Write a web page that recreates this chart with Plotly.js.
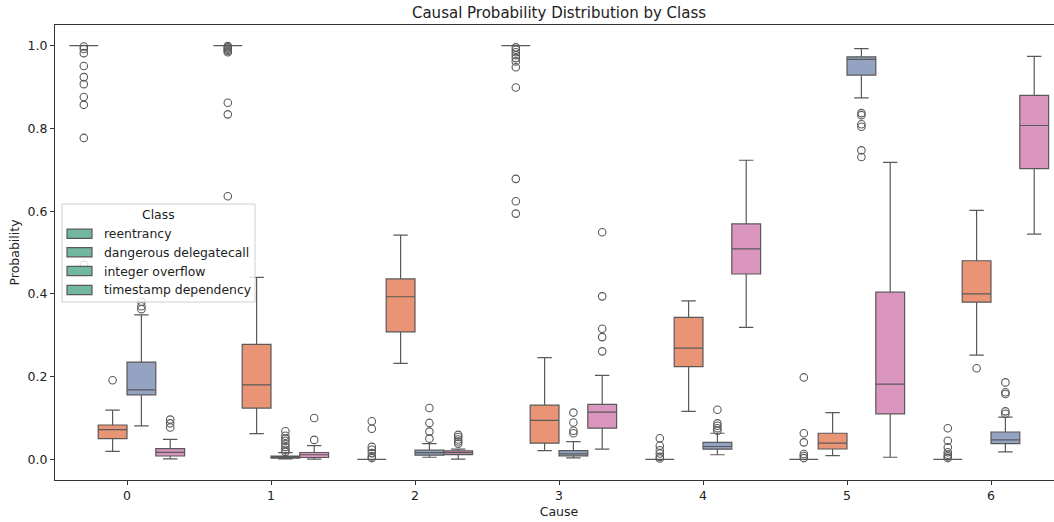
<!DOCTYPE html>
<html><head><meta charset="utf-8">
<script src="https://cdn.plot.ly/plotly-3.0.1.min.js"></script>
<style>html,body{margin:0;padding:0;overflow:hidden;background:#fff}#chart{width:1075px;height:522px}</style>
</head><body><div id="chart"></div>
<script>
// ---- data ----
const causes = [0, 1, 2, 3, 4, 5, 6];
const classes = ['reentrancy', 'dangerous delegatecall', 'integer overflow', 'timestamp dependency'];

const reentrancyQ1  = [1.0, 1.0, 0.0, 1.0, 0.0, 0.0, 0.0];
const reentrancyMed = [1.0, 1.0, 0.0, 1.0, 0.0, 0.0, 0.0];
const reentrancyQ3  = [1.0, 1.0, 0.0, 1.0, 0.0, 0.0, 0.0];
const reentrancyLo  = [1.0, 1.0, 0.0, 1.0, 0.0, 0.0, 0.0];
const reentrancyHi  = [1.0, 1.0, 0.0, 1.0, 0.0, 0.0, 0.0];
const reentrancyOut = [
  [0.998, 0.992, 0.982, 0.951, 0.924, 0.907, 0.876, 0.857, 0.777, 0.47],
  [0.999, 0.996, 0.993, 0.99, 0.987, 0.984, 0.862, 0.834, 0.636],
  [0.092, 0.074, 0.030, 0.023, 0.015, 0.007, 0.003],
  [0.996, 0.99, 0.984, 0.977, 0.97, 0.962, 0.948, 0.899, 0.678, 0.624, 0.594],
  [0.051, 0.033, 0.022, 0.014, 0.006, 0.002],
  [0.198, 0.063, 0.041, 0.013, 0.008, 0.003],
  [0.075, 0.045, 0.029, 0.017, 0.011, 0.007, 0.003]
];

const delegateQ1  = [0.050, 0.124, 0.308, 0.039, 0.224, 0.025, 0.380];
const delegateMed = [0.072, 0.180, 0.393, 0.094, 0.269, 0.039, 0.400];
const delegateQ3  = [0.083, 0.278, 0.436, 0.131, 0.343, 0.063, 0.480];
const delegateLo  = [0.019, 0.062, 0.232, 0.021, 0.116, 0.009, 0.252];
const delegateHi  = [0.119, 0.440, 0.542, 0.246, 0.383, 0.113, 0.602];
const delegateOut = [[0.191], [], [], [], [], [], [0.220]];

const overflowQ1  = [0.156, 0.003, 0.010, 0.0085, 0.0246, 0.929, 0.038];
const overflowMed = [0.168, 0.005, 0.016, 0.013, 0.031, 0.967, 0.047];
const overflowQ3  = [0.235, 0.008, 0.022, 0.021, 0.041, 0.973, 0.066];
const overflowLo  = [0.081, 0.001, 0.005, 0.0036, 0.011, 0.874, 0.018];
const overflowHi  = [0.349, 0.016, 0.038, 0.043, 0.063, 0.993, 0.102];
const overflowOut = [
  [0.381, 0.370, 0.363],
  [0.068, 0.057, 0.050, 0.045, 0.037, 0.030, 0.023, 0.018],
  [0.124, 0.088, 0.067, 0.050],
  [0.113, 0.089, 0.069, 0.063],
  [0.120, 0.087, 0.081, 0.075, 0.069],
  [0.837, 0.832, 0.810, 0.804, 0.747, 0.731],
  [0.186, 0.162, 0.158, 0.116, 0.110]
];

const timestampQ1  = [0.008, 0.0044, 0.0115, 0.0753, 0.448, 0.110, 0.703];
const timestampMed = [0.017, 0.011, 0.016, 0.114, 0.509, 0.182, 0.807];
const timestampQ3  = [0.026, 0.0165, 0.0206, 0.133, 0.569, 0.404, 0.880];
const timestampLo  = [0.001, 0.0004, 0.0005, 0.0246, 0.319, 0.005, 0.5445];
const timestampHi  = [0.048, 0.033, 0.0246, 0.203, 0.723, 0.718, 0.974];
const timestampOut = [
  [0.096, 0.087, 0.077],
  [0.100, 0.047],
  [0.059, 0.054, 0.048, 0.043, 0.038],
  [0.549, 0.394, 0.3155, 0.2955, 0.261],
  [], [], []
];

const yTicks = [0.0, 0.2, 0.4, 0.6, 0.8, 1.0];

// ---- styling ----
const fills = ['#72b7a1', '#e99575', '#95a3c3', '#db96c0'];
const edge = '#595959';
const font = 'DejaVu Sans, Verdana, sans-serif';

const stats = [
  [reentrancyQ1, reentrancyMed, reentrancyQ3, reentrancyLo, reentrancyHi, reentrancyOut],
  [delegateQ1, delegateMed, delegateQ3, delegateLo, delegateHi, delegateOut],
  [overflowQ1, overflowMed, overflowQ3, overflowLo, overflowHi, overflowOut],
  [timestampQ1, timestampMed, timestampQ3, timestampLo, timestampHi, timestampOut]
];

const groupWidth = 0.8;
const boxW = groupWidth / classes.length;
const traces = [];
stats.forEach((s, i) => {
  const off = (i - (classes.length - 1) / 2) * boxW;
  const pos = causes.map(c => c + off);
  traces.push({
    type: 'box', name: classes[i], x: pos,
    q1: s[0], median: s[1], q3: s[2], lowerfence: s[3], upperfence: s[4],
    width: boxW, whiskerwidth: 0.5, boxpoints: false,
    fillcolor: fills[i], line: {color: edge, width: 1.2},
    showlegend: false, hoverinfo: 'skip'
  });
});
stats.forEach((s, i) => {
  const off = (i - (classes.length - 1) / 2) * boxW;
  const xs = [], ys = [];
  s[5].forEach((arr, ci) => arr.forEach(v => { xs.push(causes[ci] + off); ys.push(v); }));
  traces.push({
    type: 'scatter', mode: 'markers', x: xs, y: ys, showlegend: false, hoverinfo: 'skip',
    marker: {symbol: 'circle-open', size: 7.5, color: edge, line: {width: 1.1, color: edge}}
  });
});

// ---- layout (legend drawn manually to match source appearance) ----
const L = 55, T = 25, PW = 1008, PH = 455;
const px = p => (p - L) / PW;
const py = p => (T + PH - p) / PH;

const shapes = [{
  type: 'rect', xref: 'paper', yref: 'paper', layer: 'above',
  x0: px(62), x1: px(255), y0: py(302), y1: py(204),
  fillcolor: 'rgba(255,255,255,0.8)', line: {color: '#d0d0d0', width: 1}
}];
const annotations = [{
  xref: 'paper', yref: 'paper', x: px(158), y: py(215), text: 'Class', showarrow: false,
  xanchor: 'center', yanchor: 'middle', font: {family: font, size: 12.4, color: '#222'}
}];
const rowY = [233.7, 252.3, 271, 290];
classes.forEach((c, i) => {
  shapes.push({
    type: 'rect', xref: 'paper', yref: 'paper', layer: 'above',
    x0: px(67), x1: px(92), y0: py(rowY[i] + 4.6), y1: py(rowY[i] - 4.6),
    fillcolor: fills[0], line: {color: edge, width: 1.2}
  });
  annotations.push({
    xref: 'paper', yref: 'paper', x: px(102), y: py(rowY[i]), text: c, showarrow: false,
    xanchor: 'left', yanchor: 'middle', font: {family: font, size: 12.4, color: '#222'}
  });
});

const layout = {
  width: 1075, height: 522,
  margin: {l: L, r: 1075 - L - PW, t: T, b: 522 - T - PH},
  paper_bgcolor: '#fff', plot_bgcolor: '#fff',
  font: {family: font, size: 12.5, color: '#222'},
  title: {text: 'Causal Probability Distribution by Class', x: 0.5, xref: 'paper',
          y: 1 - 13 / 522, yref: 'container', yanchor: 'middle', font: {family: font, size: 15, color: '#222'}},
  boxmode: 'overlay', showlegend: false,
  xaxis: {range: [-0.5, 6.5], tickmode: 'array', tickvals: causes, ticktext: causes.map(String),
          ticks: 'outside', ticklen: 4, tickwidth: 1, tickcolor: '#333',
          showline: true, linecolor: '#333', linewidth: 1, mirror: true,
          showgrid: false, zeroline: false, tickfont: {size: 12.5},
          title: {text: 'Cause', font: {size: 12.5}, standoff: 5}},
  yaxis: {range: [-0.05, 1.05], tickmode: 'array', tickvals: yTicks, tickformat: '.1f',
          ticks: 'outside', ticklen: 4, tickwidth: 1, tickcolor: '#333',
          showline: true, linecolor: '#333', linewidth: 1, mirror: true,
          showgrid: false, zeroline: false, tickfont: {size: 12.5},
          title: {text: 'Probability', font: {size: 12.5}, standoff: 5}},
  shapes: shapes, annotations: annotations
};

Plotly.newPlot('chart', traces, layout, {displayModeBar: false, staticPlot: true});
</script></body></html>
